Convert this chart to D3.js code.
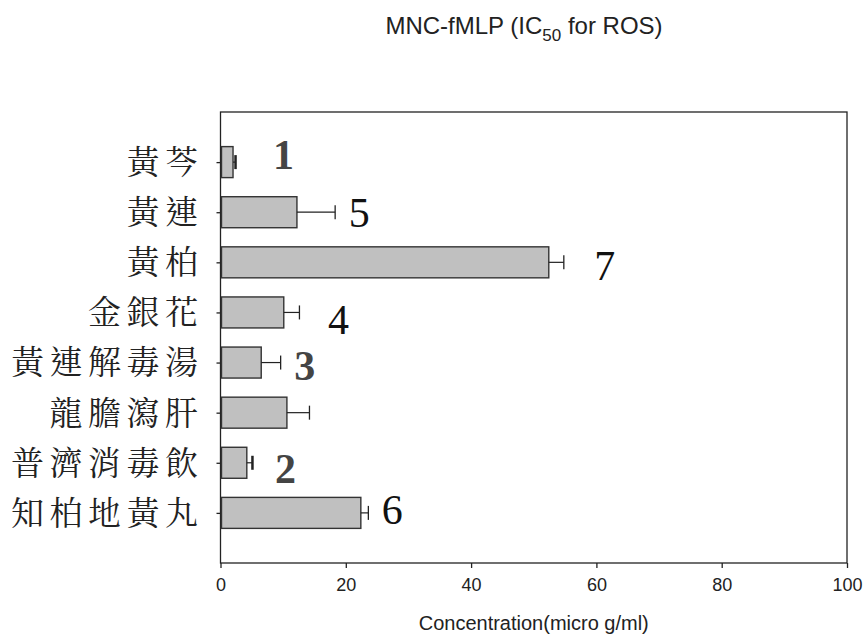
<!DOCTYPE html>
<html>
<head>
<meta charset="utf-8">
<script src="https://cdn.jsdelivr.net/npm/d3@7"></script>
<style>
  body { margin: 0; background: #fff; }
  .x-axis text { font-family: "Liberation Sans", Arial, sans-serif; font-size: 18px; fill: #222; }
  .y-label { font-family: "Noto Serif CJK TC", "Noto Sans CJK TC", serif; font-size: 33px; fill: #222; }
  .rank { font-family: "Liberation Serif", "Times New Roman", serif; font-size: 42px; fill: #222; }
</style>
</head>
<body>
<svg id="chart" width="864" height="635"></svg>
<script>
var herbs = ["黃芩", "黃連", "黃柏", "金銀花", "黃連解毒湯", "龍膽瀉肝", "普濟消毒飲", "知柏地黃丸"];
var ic50 = [2.0, 12.2, 52.4, 10.1, 6.5, 10.6, 4.2, 22.4];
var errors = [0.4, 6.1, 2.4, 2.5, 3.1, 3.6, 0.9, 1.2];
var ranks = ["1", "5", "7", "4", "3", "", "2", "6"];
var xTicks = [0, 20, 40, 60, 80, 100];

// where each rank number sits, relative to the end of its error bar (px)
var rankDx = [48, 24, 41, 39, 24, 0, 33, 24];
var rankDy = [7, 15, 18, 22, 17, 0, 20, 11];
var rankBold = [true, false, false, false, true, false, true, false];

var margin = {top: 112, right: 17, bottom: 72, left: 220.5},
  width = 864 - margin.left - margin.right,
  height = 635 - margin.top - margin.bottom;

var svg = d3.select("#chart")
  .append("g")
  .attr("transform", "translate(" + margin.left + "," + margin.top + ")");

var x = d3.scaleLinear()
  .domain([0, 100])
  .range([0, width]);

var y = d3.scalePoint()
  .domain(herbs)
  .range([0, height])
  .padding(1);

var barH = 31;

// title
var title = d3.select("#chart").append("text")
  .attr("x", 524)
  .attr("y", 34)
  .attr("text-anchor", "middle")
  .style("font-family", "Liberation Sans, Arial, sans-serif")
  .style("font-size", "24px")
  .style("fill", "#222");
title.append("tspan").text("MNC-fMLP (IC");
title.append("tspan").attr("dy", 7).style("font-size", "17px").text("50");
title.append("tspan").attr("dy", -7).text(" for ROS)");

// frame
svg.append("rect")
  .attr("width", width)
  .attr("height", height)
  .attr("fill", "none")
  .attr("stroke", "#222")
  .attr("stroke-width", 1.3);

var xAxis = d3.axisBottom(x).tickValues(xTicks).tickSize(5).tickPadding(10);
var gx = svg.append("g")
  .attr("class", "x-axis")
  .attr("transform", "translate(0," + height + ")")
  .call(xAxis);
gx.select(".domain").remove();
gx.selectAll("line").attr("stroke", "#222").attr("stroke-width", 1.3);

var yAxis = d3.axisLeft(y).tickSize(4).tickFormat("");
var gy = svg.append("g")
  .attr("class", "y-axis")
  .call(yAxis);
gy.select(".domain").remove();
gy.selectAll("line").attr("stroke", "#222").attr("stroke-width", 1.3);

svg.selectAll(".y-label")
  .data(herbs)
  .enter().append("text")
  .attr("class", "y-label")
  .attr("x", -17)
  .attr("y", function(d) { return y(d); })
  .attr("dy", "0.36em")
  .attr("text-anchor", "end")
  .style("letter-spacing", "5.5px")
  .text(function(d) { return d; });

// bars
svg.selectAll(".bar")
  .data(herbs)
  .enter().append("rect")
  .attr("class", "bar")
  .attr("x", x(0) + 1)
  .attr("y", function(d) { return y(d) - barH / 2; })
  .attr("width", function(d, i) { return x(ic50[i]) - x(0) - 1; })
  .attr("height", barH)
  .attr("fill", "#c0c0c0")
  .attr("stroke", "#333")
  .attr("stroke-width", 1.4);

// error bars
svg.selectAll(".err")
  .data(herbs)
  .enter().append("line")
  .attr("class", "err")
  .attr("x1", function(d, i) { return x(ic50[i]); })
  .attr("x2", function(d, i) { return x(ic50[i] + errors[i]); })
  .attr("y1", function(d) { return y(d); })
  .attr("y2", function(d) { return y(d); })
  .attr("stroke", "#222")
  .attr("stroke-width", 1.2);

svg.selectAll(".cap")
  .data(herbs)
  .enter().append("line")
  .attr("class", "cap")
  .attr("x1", function(d, i) { return x(ic50[i] + errors[i]); })
  .attr("x2", function(d, i) { return x(ic50[i] + errors[i]); })
  .attr("y1", function(d) { return y(d) - 7; })
  .attr("y2", function(d) { return y(d) + 7; })
  .attr("stroke", "#222")
  .attr("stroke-width", function(d, i) { return errors[i] < 1 ? 2.5 : 1.3; });

// rank numbers
svg.selectAll(".rank")
  .data(herbs)
  .enter().append("text")
  .attr("class", "rank")
  .attr("x", function(d, i) { return x(ic50[i] + errors[i]) + rankDx[i]; })
  .attr("y", function(d, i) { return y(d) + rankDy[i]; })
  .attr("text-anchor", "middle")
  .style("font-weight", function(d, i) { return rankBold[i] ? "bold" : "normal"; })
  .style("fill", function(d, i) { return rankBold[i] ? "#444" : "#111"; })
  .text(function(d, i) { return ranks[i]; });

// x title
svg.append("text")
  .attr("x", width / 2)
  .attr("y", height + 67)
  .attr("text-anchor", "middle")
  .style("font-family", "Liberation Sans, Arial, sans-serif")
  .style("font-size", "20px")
  .style("fill", "#222")
  .text("Concentration(micro g/ml)");
</script>
</body>
</html>
